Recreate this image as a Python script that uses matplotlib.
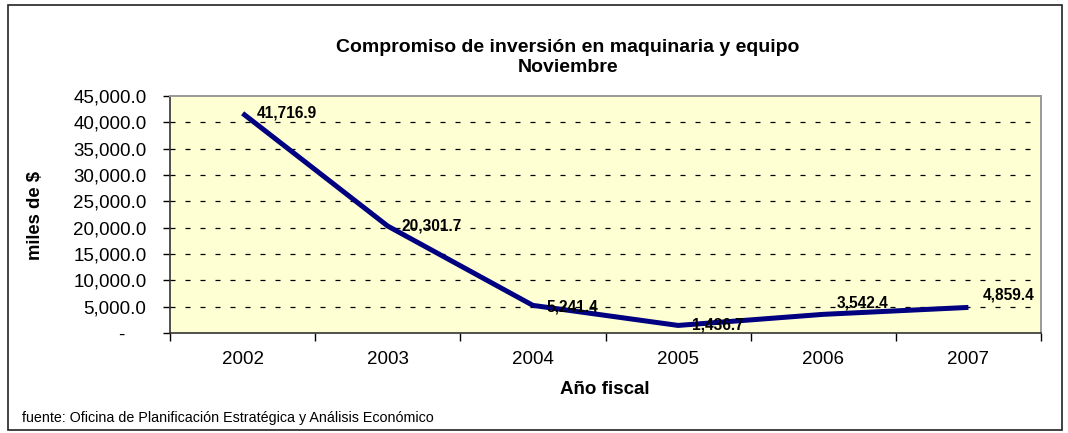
import matplotlib
matplotlib.use("Agg")
import matplotlib.pyplot as plt
from matplotlib.patches import Rectangle
from matplotlib.ticker import FixedLocator, FuncFormatter

years = ["2002", "2003", "2004", "2005", "2006", "2007"]
values = [41716.9, 20301.7, 5241.4, 1436.7, 3542.4, 4859.4]
yticks = [0, 5000, 10000, 15000, 20000, 25000, 30000, 35000, 40000, 45000]

title1 = "Compromiso de inversión en maquinaria y equipo"
title2 = "Noviembre"
ylabel = "miles de $"
xlabel = "Año fiscal"
source = "fuente: Oficina de Planificación Estratégica y Análisis Económico"

# label offsets in points (style only)
label_dy = [0, 0, -1, 0, 8, 9]

plt.rcParams['font.family'] = ['Liberation Sans', 'DejaVu Sans']

W, H = 1068, 433
fig = plt.figure(figsize=(W / 100, H / 100), dpi=100)
fig.patch.set_facecolor("white")

# outer border
fig.add_artist(Rectangle((8 / W, 1 - 430 / H), (1062 - 8) / W, (430 - 5) / H,
                         transform=fig.transFigure, fill=False,
                         edgecolor="#222222", linewidth=1.2))

ax = fig.add_axes([170 / W, 1 - 333 / H, (1041 - 170) / W, (333 - 96) / H])
ax.set_facecolor("#FFFFD4")

x = list(range(len(years)))
ax.plot(x, values, color="#000080", linewidth=3.6, solid_capstyle="butt", zorder=3)

for xi, v, dy in zip(x, values, label_dy):
    ax.annotate(f"{v:,.1f}", (xi, v), xytext=(10, dy), textcoords="offset points",
                ha="left", va="center", fontsize=11.2, fontweight="bold", zorder=4)

ax.set_xlim(-0.5, len(years) - 0.5)
ax.set_ylim(0, 45000)

# y axis
ax.yaxis.set_major_locator(FixedLocator(yticks))
ax.yaxis.set_major_formatter(FuncFormatter(lambda v, p: "-    " if v == 0 else f"{v:,.1f}"))
ax.tick_params(axis="y", length=5, width=1, pad=12, labelsize=13.5, color="black")

# x axis: ticks at category boundaries, labels centered
ax.xaxis.set_major_locator(FixedLocator([i - 0.5 for i in range(len(years) + 1)]))
ax.xaxis.set_major_formatter(FuncFormatter(lambda v, p: ""))
ax.xaxis.set_minor_locator(FixedLocator(x))
ax.set_xticklabels(years, minor=True)
ax.tick_params(axis="x", which="major", length=6, width=1, color="black")
ax.tick_params(axis="x", which="minor", length=0, pad=13, labelsize=13.5)

# gridlines
for yv in yticks[1:-1]:
    ax.axhline(yv, color="black", linewidth=0.9, linestyle=(0, (4, 8)), zorder=1)

for s in ["left", "bottom"]:
    ax.spines[s].set_color("#333333")
    ax.spines[s].set_linewidth(1.2)
for s in ["top", "right"]:
    ax.spines[s].set_color("#999999")
    ax.spines[s].set_linewidth(1.4)

fig.text(568 / W, 1 - 47 / H, title1, ha="center", va="center", fontsize=14, fontweight="bold")
fig.text(568 / W, 1 - 68 / H, title2, ha="center", va="center", fontsize=14, fontweight="bold")
fig.text(35 / W, 1 - 215 / H, ylabel, ha="center", va="center", rotation=90,
         fontsize=13.3, fontweight="bold")
fig.text(605 / W, 1 - 390 / H, xlabel, ha="center", va="center", fontsize=13.5, fontweight="bold")
fig.text(22 / W, 1 - 418 / H, source, ha="left", va="center", fontsize=10.3)

fig.savefig("out.png", dpi=100)
